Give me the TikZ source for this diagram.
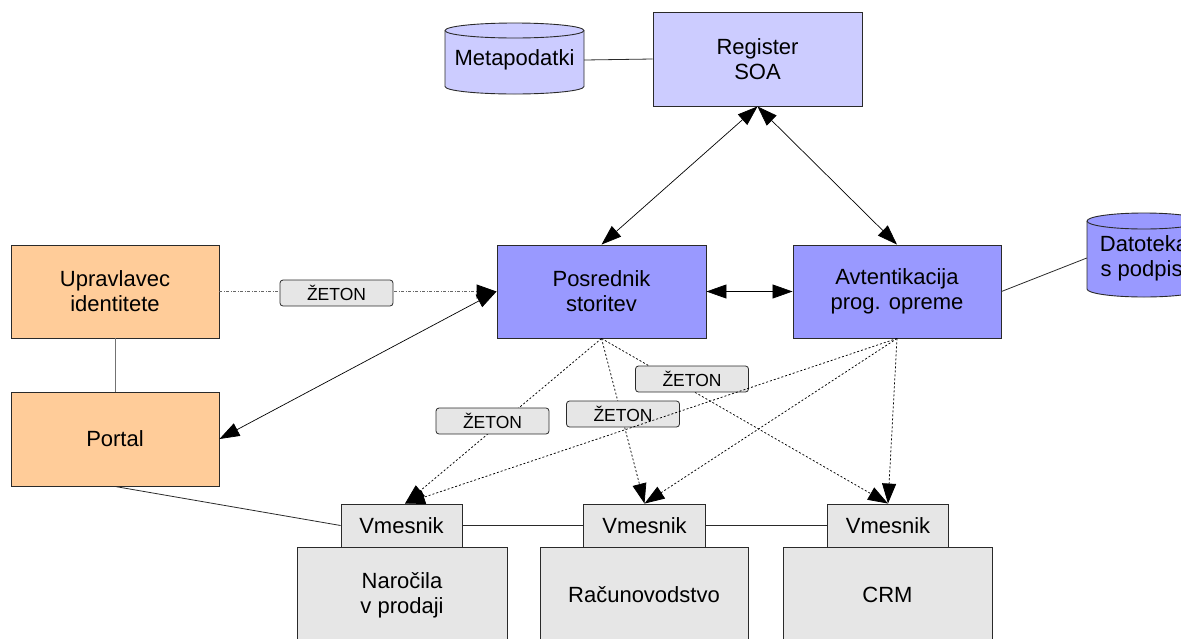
\documentclass[tikz,border=0pt]{standalone}
\usepackage{fontspec}
\setmainfont{Liberation Sans}
\usetikzlibrary{arrows.meta}

\definecolor{lavlight}{HTML}{CCCCFF}
\definecolor{lavmid}{HTML}{9999FF}
\definecolor{peach}{HTML}{FFCC99}
\definecolor{paleGray}{HTML}{E6E6E6}
\definecolor{rim}{HTML}{2A2A2A}

\tikzset{
  box/.style={draw=rim, line width=0.9pt, inner sep=0pt, align=center,
              font=\fontsize{22}{25}\selectfont},
  soa/.style={box, fill=lavlight},
  svc/.style={box, fill=lavmid},
  idm/.style={box, fill=peach},
  app/.style={box, fill=paleGray},
  zeton/.style={draw=rim, line width=0.8pt, fill=paleGray, rounded corners=3pt,
                minimum width=113pt, minimum height=26pt, inner sep=0pt,
                font=\fontsize{17.5}{20}\selectfont},
  cyltext/.style={inner sep=0pt, align=center, font=\fontsize{22}{25}\selectfont},
  link/.style={draw=black, line width=0.7pt},
  plainlink/.style={draw=rim, line width=0.8pt},
  greylink/.style={draw=black!55, line width=0.9pt},
  tokenlink/.style={draw=black, line width=0.75pt, dash pattern=on 2pt off 2pt},
  idlink/.style={draw=black!60, line width=0.9pt, dash pattern=on 3pt off 1.5pt on 1pt off 1.5pt},
  >={Triangle[length=20pt,width=14pt]}
}

% vertical cylinder: centre x, top y, bottom y, half width, rim radius, fill
\newcommand{\drumshape}[6]{%
  \path[fill=#6, draw=rim, line width=0.9pt]
    (#1-#4,#2+#5) -- (#1-#4,#3-#5)
    arc[start angle=180, end angle=0, x radius=#4, y radius=#5]
    -- (#1+#4,#2+#5)
    arc[start angle=0, end angle=-180, x radius=#4, y radius=#5] -- cycle;
  \draw[rim, line width=0.9pt] (#1-#4,#2+#5)
    arc[start angle=180, end angle=0, x radius=#4, y radius=#5];
}

\begin{document}
\begin{tikzpicture}[x=1pt, y=-1pt]
  \useasboundingbox (0,0) rectangle (1181,638);

  % data stores
  \drumshape{514.5}{23}{94}{69.5}{7.5}{lavlight}
  \node[cyltext, minimum width=139pt, minimum height=71pt] (meta) at (514.5,60) {Metapodatki};
  \drumshape{1144}{213}{297}{57}{8}{lavmid}
  \node[cyltext, minimum width=114pt, minimum height=84pt] (dat) at (1144,258) {Datoteka\\s podpisi};

  % service layer
  \node[soa, minimum width=209pt, minimum height=94pt] (reg) at (757.5,59) {Register\\SOA};
  \node[svc, minimum width=209pt, minimum height=93pt] (pos) at (601.5,291.5) {Posrednik\\storitev};
  \node[svc, minimum width=208pt, minimum height=93pt] (avt) at (897,291.5) {Avtentikacija\\prog. opreme};

  % identity side
  \node[idm, minimum width=208pt, minimum height=93pt] (upr) at (115,291.5) {Upravlavec\\identitete};
  \node[idm, minimum width=208pt, minimum height=94pt] (por) at (115,439) {Portal};

  % applications
  \node[app, minimum width=210pt, minimum height=96pt] (nar) at (402,595) {Naročila\\v prodaji};
  \node[app, minimum width=208pt, minimum height=96pt] (rac) at (644,595) {Računovodstvo};
  \node[app, minimum width=209pt, minimum height=96pt] (crm) at (887.5,595) {CRM};
  \node[app, minimum width=121pt, minimum height=43pt] (v1) at (401.5,525.5) {Vmesnik};
  \node[app, minimum width=122pt, minimum height=43pt] (v2) at (644.5,525.5) {Vmesnik};
  \node[app, minimum width=121pt, minimum height=43pt] (v3) at (888,525.5) {Vmesnik};

  % plain connections
  \draw[plainlink] (meta.east) -- (reg.west);
  \draw[plainlink] (avt.east) -- (dat.west);
  \draw[greylink] (upr.south) -- (por.north);
  \draw[plainlink] (por.south) -- (v1.west);
  \draw[plainlink] (v1.east) -- (v2.west);
  \draw[plainlink] (v2.east) -- (v3.west);

  % registry and broker links
  \draw[link, <->] (reg.south) -- (pos.north);
  \draw[link, <->] (reg.south) -- (avt.north);
  \draw[link, <->] (pos.east) -- (avt.west);
  \draw[link, <->] (pos.west) -- (por.east);

  % token from the identity manager
  \draw[idlink, -{Triangle[length=20pt,width=14pt,color=black,fill=black]}] (upr.east) -- (pos.west);
  \node[zeton] (z0) at (336.5,293) {ŽETON};

  % tokens passed on by the broker
  \draw[tokenlink, ->] (pos.south) -- ([xshift=3.5pt]v1.north);
  \draw[tokenlink, ->] (pos.south) -- (v2.north);
  \draw[tokenlink, ->] (pos.south) -- (v3.north);
  \node[zeton] (z1) at (492.5,421) {ŽETON};
  \node[zeton] (z2) at (623,414) {ŽETON};
  \node[zeton] (z3) at (692,379) {ŽETON};

  % authentication checks
  \draw[tokenlink, ->] (avt.south) -- ([xshift=3.5pt]v1.north);
  \draw[tokenlink, ->] (avt.south) -- (v2.north);
  \draw[tokenlink, ->] (avt.south) -- (v3.north);
\end{tikzpicture}
\end{document}
